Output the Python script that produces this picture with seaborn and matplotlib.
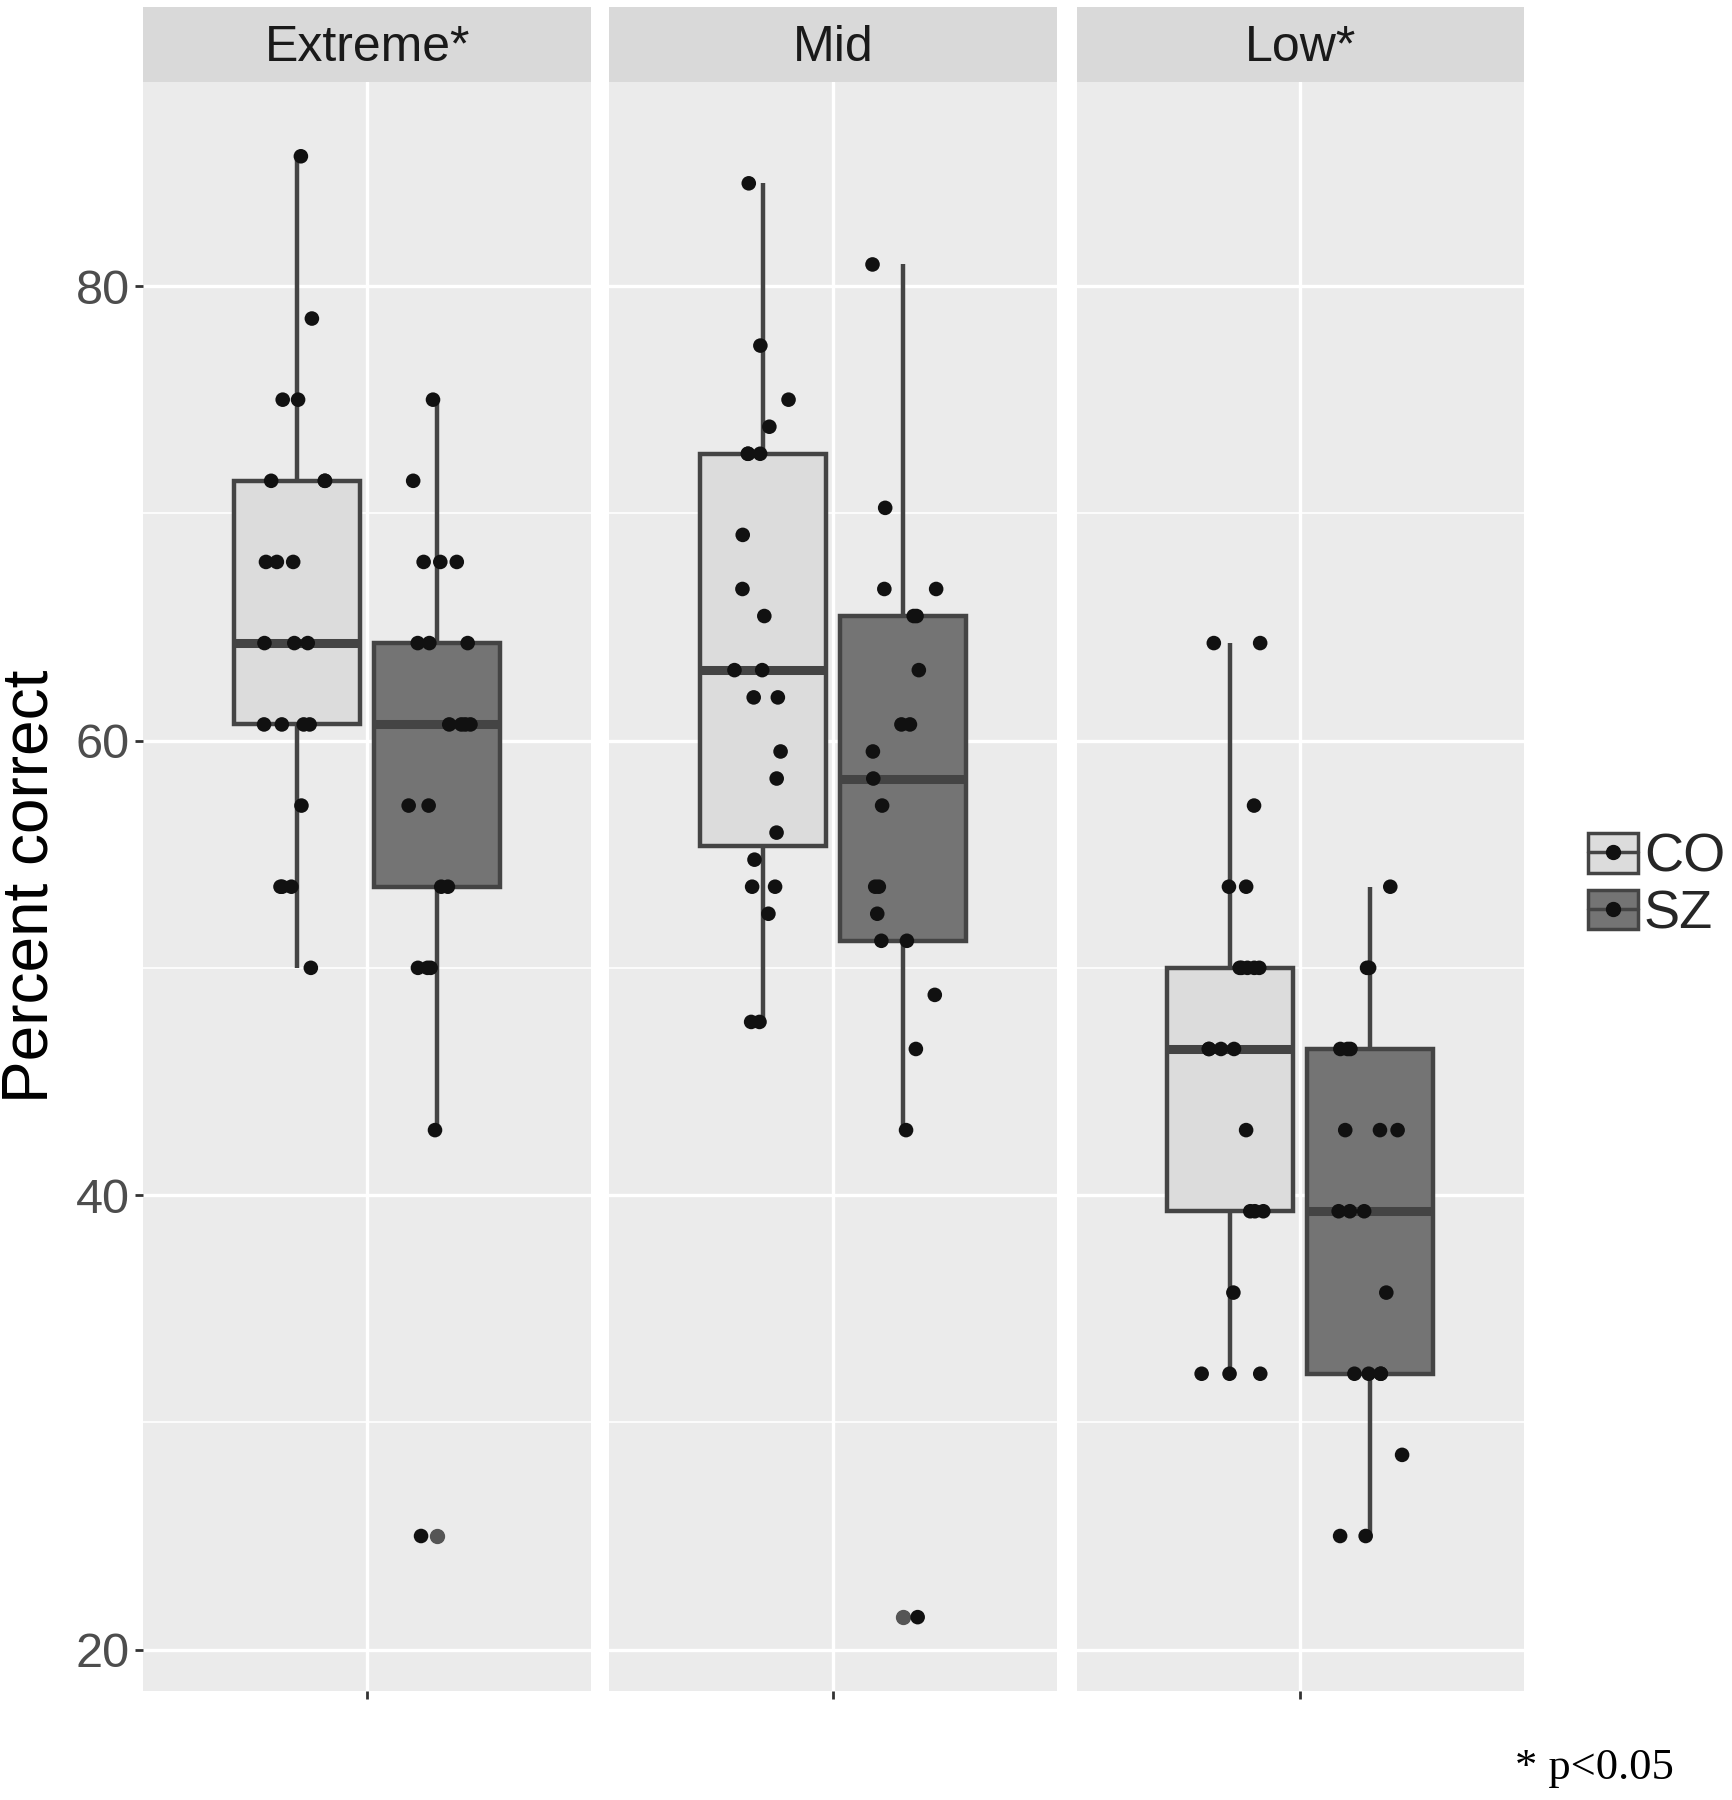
import numpy as np
import pandas as pd
import matplotlib
matplotlib.use("Agg")
import matplotlib.pyplot as plt
import seaborn as sns
from matplotlib.patches import Patch
from matplotlib.lines import Line2D

# ---------------- data (percent correct) ----------------
conditions = ["Extreme*", "Mid", "Low*"]
groups = ["CO", "SZ"]

extreme_co = [85.71, 78.57, 75.00, 75.00, 71.43, 71.43, 71.43, 67.86, 67.86, 67.86,
              64.29, 64.29, 64.29, 60.71, 60.71, 60.71, 60.71, 57.14, 53.57, 53.57,
              53.57, 50.00]
extreme_sz = [75.00, 71.43, 67.86, 67.86, 67.86, 64.29, 64.29, 64.29, 60.71, 60.71,
              60.71, 60.71, 57.14, 57.14, 53.57, 53.57, 50.00, 50.00, 50.00, 42.86,
              25.00]
mid_co = [84.52, 77.38, 75.00, 73.81, 72.62, 72.62, 72.62, 69.05, 66.67, 65.48,
          63.10, 63.10, 61.90, 61.90, 59.52, 58.33, 55.95, 54.76, 53.57, 53.57,
          52.38, 47.62, 47.62]
mid_sz = [80.95, 70.24, 66.67, 66.67, 65.48, 65.48, 63.10, 60.71, 60.71, 59.52,
          58.33, 57.14, 53.57, 53.57, 52.38, 51.19, 51.19, 48.81, 46.43, 42.86,
          21.43]
low_co = [64.29, 64.29, 57.14, 53.57, 53.57, 50.00, 50.00, 50.00, 50.00, 50.00,
          46.43, 46.43, 46.43, 46.43, 42.86, 39.29, 39.29, 39.29, 35.71, 32.14,
          32.14, 32.14]
low_sz = [53.57, 50.00, 50.00, 46.43, 46.43, 46.43, 42.86, 42.86, 42.86, 39.29,
          39.29, 39.29, 35.71, 32.14, 32.14, 32.14, 32.14, 28.57, 25.00, 25.00]

y_ticks = [20, 40, 60, 80]
y_minor = [30, 50, 70]
y_label = "Percent correct"
note = "* p<0.05"

series = {
    ("Extreme*", "CO"): extreme_co, ("Extreme*", "SZ"): extreme_sz,
    ("Mid", "CO"): mid_co, ("Mid", "SZ"): mid_sz,
    ("Low*", "CO"): low_co, ("Low*", "SZ"): low_sz,
}
rows = []
for (cond, grp), vals in series.items():
    for v in vals:
        rows.append({"cond": cond, "group": grp, "pct": v})
df = pd.DataFrame(rows)

# ---------------- style ----------------
sns.set_theme(style="darkgrid")
plt.rcParams["font.family"] = ["Liberation Sans", "DejaVu Sans"]

fill_pal = {"CO": "#DCDCDC", "SZ": "#747474"}
dot_pal = {"CO": "#111111", "SZ": "#111111"}
edge = "#444444"

W, H = 1733, 1800
fig = plt.figure(figsize=(W / 100, H / 100), dpi=100)
fig.patch.set_facecolor("white")

panel_left = [143.5, 609.5, 1076.5]
panel_w = 447.5
panel_top, panel_bot = 81.5, 1691.0
strip_top = 7.0

np.random.seed(3)
axes = []
for i, cond in enumerate(conditions):
    ax = fig.add_axes([panel_left[i] / W, 1 - panel_bot / H,
                       panel_w / W, (panel_bot - panel_top) / H])
    axes.append(ax)
    sub = df[df["cond"] == cond]
    sns.boxplot(data=sub, x="cond", y="pct", hue="group", hue_order=groups,
                palette=fill_pal, saturation=1, width=0.8, gap=0.1,
                linecolor=edge, linewidth=3.2, showcaps=False,
                medianprops={"linewidth": 6.5, "color": edge},
                whiskerprops={"linewidth": 3.2, "color": edge},
                flierprops={"marker": "o", "markersize": 10,
                            "markerfacecolor": "#555555",
                            "markeredgecolor": "#555555"},
                legend=False, ax=ax, zorder=2)
    sns.stripplot(data=sub, x="cond", y="pct", hue="group", hue_order=groups,
                  palette=dot_pal, dodge=True, jitter=0.2, size=10.5,
                  linewidth=0, legend=False, ax=ax, zorder=3)
    ax.set_xlim(-0.64, 0.64)
    ax.set_ylim(18.18, 89.0)
    ax.set_facecolor("#EBEBEB")
    for s in ax.spines.values():
        s.set_visible(False)
    ax.set_yticks(y_ticks)
    ax.set_yticks(y_minor, minor=True)
    ax.set_xticks([0])
    ax.set_xticklabels([""])
    ax.grid(which="major", color="white", linewidth=2.4)
    ax.grid(which="minor", axis="y", color="white", linewidth=1.2)
    ax.set_axisbelow(True)
    ax.set_xlabel("")
    ax.set_ylabel("")
    ax.tick_params(axis="x", length=6, width=2, color="#333333", direction="out",
                   bottom=True)
    ax.tick_params(axis="y", which="minor", length=0, left=False)
    if i == 0:
        ax.tick_params(axis="y", which="major", length=6, width=2, color="#333333",
                       labelsize=35, labelcolor="#4D4D4D", pad=4, left=True)
    else:
        ax.tick_params(axis="y", which="major", length=0, labelleft=False, left=False)

    sax = fig.add_axes([panel_left[i] / W, 1 - panel_top / H,
                        panel_w / W, (panel_top - strip_top) / H])
    sax.set_facecolor("#D9D9D9")
    sax.set_xticks([])
    sax.set_yticks([])
    sax.grid(False)
    for s in sax.spines.values():
        s.set_visible(False)
    sax.text(0.5, 0.45, cond, ha="center", va="center", fontsize=36,
             color="#1A1A1A", transform=sax.transAxes)

fig.text(31 / W, 1 - 886 / H, y_label, rotation=90, ha="center", va="center",
         fontsize=46, color="black")

handles = []
for g in groups:
    handles.append((Patch(facecolor=fill_pal[g], edgecolor=edge, linewidth=2.5),
                    Line2D([0], [0], color=edge, lw=2.5, marker="o",
                           markerfacecolor="#111111", markeredgecolor="#111111",
                           markersize=10)))
fig.legend(handles, groups, loc="center left",
           bbox_to_anchor=(1588 / W, 1 - 886 / H), frameon=False,
           fontsize=39, handlelength=0.93, handleheight=0.75,
           handletextpad=0.1, labelspacing=0.12, borderpad=0, borderaxespad=0)

fig.text(1515 / W, 1 - 1768 / H, note, ha="left", va="center", fontsize=32,
         family=["Liberation Serif", "DejaVu Serif"], color="black")

fig.savefig("out.png", dpi=100, facecolor="white")
